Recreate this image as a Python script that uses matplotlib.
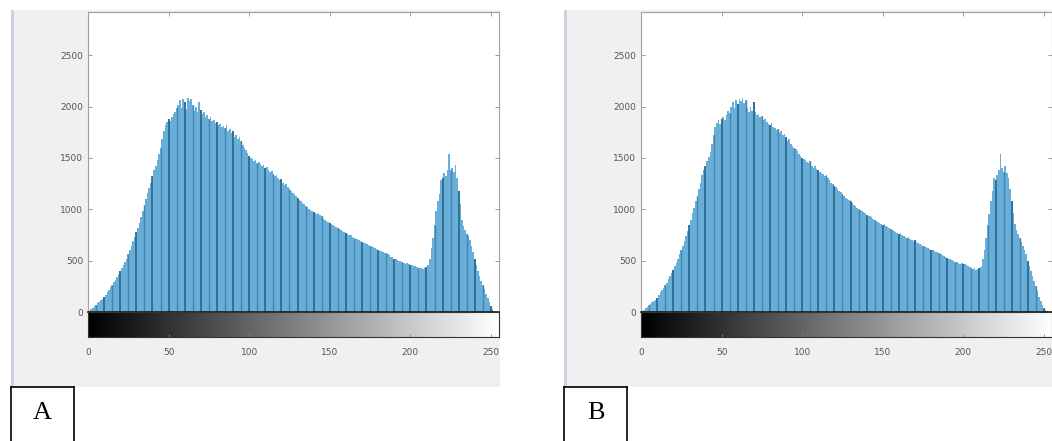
import numpy as np
import matplotlib
matplotlib.use("Agg")
import matplotlib.pyplot as plt
from matplotlib.patches import Rectangle

# histogram counts per grey level (0..255), panel A
counts_a = [
    0, 10, 25, 40, 55, 70, 85, 100, 115, 130, 150, 170, 195, 215, 240, 265,
    290, 315, 345, 370, 400, 430, 455, 490, 520, 560, 600, 640, 690, 730, 780, 820,
    870, 920, 980, 1040, 1100, 1160, 1210, 1260, 1320, 1380, 1420, 1480, 1540, 1600, 1680, 1760,
    1820, 1850, 1880, 1860, 1900, 1930, 1950, 1990, 2010, 2060, 1990, 2070, 2040, 1980, 2080, 2050,
    2070, 2010, 1960, 2000, 1950, 2040, 1970, 1930, 1950, 1900, 1920, 1880, 1900, 1860, 1870, 1840,
    1850, 1820, 1830, 1800, 1810, 1790, 1820, 1760, 1780, 1740, 1760, 1700, 1720, 1680, 1700, 1660,
    1630, 1600, 1580, 1550, 1520, 1500, 1490, 1470, 1480, 1450, 1460, 1440, 1420, 1430, 1400, 1410,
    1380, 1360, 1370, 1340, 1320, 1330, 1300, 1280, 1290, 1260, 1240, 1250, 1220, 1200, 1180, 1160,
    1150, 1130, 1110, 1090, 1080, 1060, 1050, 1030, 1020, 1000, 990, 980, 970, 960, 950, 960,
    940, 930, 910, 900, 890, 880, 870, 860, 850, 840, 830, 820, 810, 800, 790, 780,
    770, 760, 750, 745, 730, 720, 710, 715, 700, 690, 680, 670, 675, 660, 650, 640,
    640, 630, 625, 610, 600, 595, 590, 580, 575, 570, 560, 550, 540, 535, 520, 515,
    510, 500, 495, 490, 480, 470, 475, 465, 460, 455, 445, 450, 440, 430, 425, 430,
    420, 430, 440, 460, 520, 620, 720, 850, 980, 1080, 1150, 1280, 1300, 1350, 1320, 1380,
    1540, 1380, 1400, 1360, 1430, 1300, 1180, 1050, 900, 840, 800, 760, 740, 700, 640, 580,
    520, 460, 400, 350, 300, 260, 220, 180, 140, 100, 60, 25, 5, 0, 0, 0,
]

# panel B
counts_b = [
    0, 5, 20, 35, 50, 65, 80, 95, 110, 120, 140, 165, 190, 210, 235, 260,
    285, 320, 350, 380, 410, 450, 480, 520, 560, 600, 640, 690, 740, 790, 850, 900,
    960, 1010, 1080, 1130, 1200, 1260, 1330, 1380, 1420, 1470, 1510, 1560, 1640, 1720, 1800, 1840,
    1870, 1830, 1880, 1900, 1870, 1920, 1960, 1940, 2000, 2040, 1990, 2060, 2020, 2070, 2050, 2080,
    2030, 2060, 1990, 1950, 2000, 1960, 2040, 1950, 1920, 1930, 1900, 1910, 1870, 1880, 1850, 1830,
    1820, 1840, 1800, 1790, 1770, 1780, 1740, 1760, 1720, 1730, 1700, 1660, 1680, 1640, 1620, 1600,
    1590, 1570, 1540, 1520, 1500, 1490, 1480, 1460, 1450, 1470, 1420, 1400, 1420, 1390, 1380, 1360,
    1350, 1340, 1320, 1330, 1300, 1280, 1260, 1250, 1230, 1220, 1200, 1180, 1170, 1150, 1130, 1110,
    1100, 1090, 1080, 1060, 1040, 1030, 1010, 1000, 990, 980, 970, 960, 940, 930, 935, 920,
    910, 900, 890, 880, 870, 860, 850, 860, 840, 830, 820, 810, 800, 790, 780, 770,
    760, 770, 750, 740, 730, 720, 730, 710, 700, 690, 700, 680, 670, 660, 650, 645,
    640, 630, 620, 610, 605, 600, 590, 585, 580, 570, 560, 555, 545, 540, 530, 520,
    515, 505, 500, 490, 485, 475, 470, 480, 465, 470, 455, 450, 440, 430, 420, 425,
    410, 420, 430, 440, 520, 600, 720, 850, 950, 1080, 1180, 1300, 1280, 1330, 1380, 1540,
    1400, 1360, 1420, 1350, 1300, 1200, 1080, 960, 860, 800, 760, 720, 680, 640, 600, 560,
    500, 450, 400, 350, 300, 250, 200, 150, 110, 70, 40, 15, 5, 0, 0, 0,
]

panel_labels = ["A", "B"]
y_ticks = [0, 500, 1000, 1500, 2000, 2500]
x_ticks = [0, 50, 100, 150, 200, 250]

W, H = 1052, 441
bar_color = "#69aed6"
line_dark = "#25668f"
line_mid = "#3f85b5"
tick_color = "#555555"

fig = plt.figure(figsize=(W / 100, H / 100), dpi=100)
fig.patch.set_facecolor("white")


def px_box(x0, y0, x1, y1):
    # pixel box (top-left origin) -> figure fraction rect
    return [x0 / W, 1 - y1 / H, (x1 - x0) / W, (y1 - y0) / H]


def draw_panel(counts, gx0, gx1, ax_left, ax_right, label):
    # grey window background
    bg = fig.add_axes(px_box(gx0, 10, gx1, 387))
    bg.set_facecolor("#f0f0f0")
    bg.set_xticks([])
    bg.set_yticks([])
    for s in bg.spines.values():
        s.set_visible(False)
    bg.add_patch(Rectangle((0, 0), 3 / (gx1 - gx0), 1, transform=bg.transAxes,
                           color="#c9d3e0", lw=0))

    x = np.arange(len(counts))
    h = np.array(counts)

    ax = fig.add_axes(px_box(ax_left, 12, ax_right, 312))
    ax.set_facecolor("white")
    ax.bar(x, h, width=1.0, color=bar_color, linewidth=0)
    step = x[::5]
    ax.vlines(step[::2], 0, h[::5][::2], color=line_dark, lw=1.2)
    ax.vlines(step[1::2], 0, h[::5][1::2], color=line_mid, lw=1.0)
    ax.set_xlim(0, 255)
    ax.set_ylim(0, 2920)
    ax.set_yticks(y_ticks)
    ax.set_yticklabels([str(v) for v in y_ticks])
    ax.set_xticks(x_ticks)
    ax.set_xticklabels([])
    ax.tick_params(direction="in", length=3, width=0.6, colors="#888888",
                   labelcolor=tick_color, labelsize=6.5, top=True, right=True)
    for s in ax.spines.values():
        s.set_color("#a0a0a0")
        s.set_linewidth(0.8)
    ax.spines["bottom"].set_color("#1a1a1a")
    ax.spines["bottom"].set_linewidth(1.2)

    # grey-level bar under the histogram
    cb = fig.add_axes(px_box(ax_left, 312, ax_right, 337))
    cb.imshow(x.reshape(1, -1), cmap="gray", aspect="auto",
              extent=[0, 255, 0, 1], vmin=0, vmax=255)
    cb.set_xlim(0, 255)
    cb.set_yticks([])
    cb.set_xticks(x_ticks)
    cb.set_xticklabels([str(v) for v in x_ticks])
    cb.tick_params(direction="in", length=2, width=0.6, colors="#888888",
                   labelcolor=tick_color, labelsize=6.5, pad=8)
    for s in cb.spines.values():
        s.set_color("#333333")
        s.set_linewidth(0.8)

    # boxed panel letter
    lab = fig.add_axes(px_box(gx0, 387, gx0 + 63, 446))
    lab.set_xticks([])
    lab.set_yticks([])
    lab.set_facecolor("white")
    for s in lab.spines.values():
        s.set_color("black")
        s.set_linewidth(1.2)
    lab.text(0.5, 0.56, label, ha="center", va="center", fontsize=19,
             family="Liberation Serif", transform=lab.transAxes)


draw_panel(counts_a, 11, 500, 88, 499, panel_labels[0])
draw_panel(counts_b, 564, 1052, 641, 1052, panel_labels[1])

fig.savefig("out.png", dpi=100)
